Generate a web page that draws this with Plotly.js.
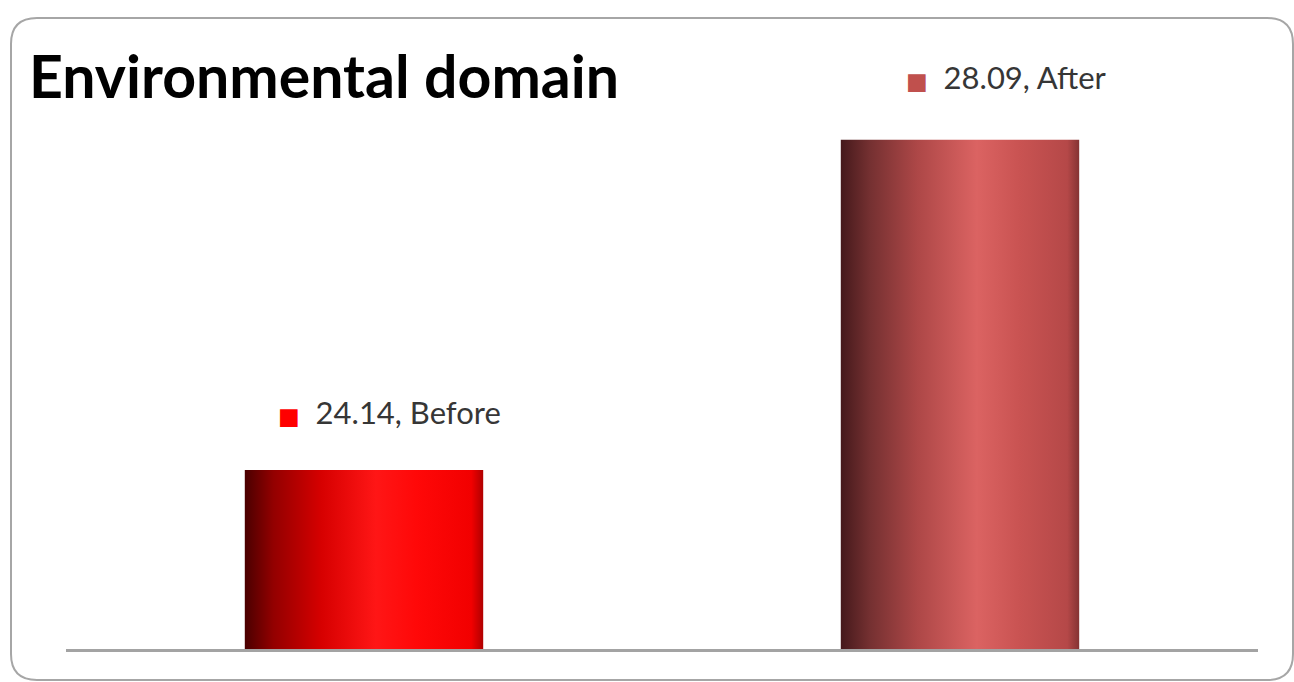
<!DOCTYPE html>
<html>
<head>
<meta charset="utf-8">
<script src="https://cdn.plot.ly/plotly-3.0.1.min.js"></script>
<style>
html,body{margin:0;padding:0;background:#fff;}
#chart{width:1294px;height:682px;}
</style>
</head>
<body>
<div id="chart"></div>
<script>
// ---- data ----
const categories = ["Before", "After"];
const values = [24.14, 28.09];
const barColors = ["#ff0000", "#c0504d"];
const chartTitle = "Environmental domain";

// ---- style helpers ----
const axisMin = 22;
const labelXShift = [-88, -56];
const labelYShift = [58, 63];
const gradients = [
  [[0, "#4a0000"], [0.12, "#930000"], [0.32, "#d60000"], [0.55, "#ff1616"], [0.72, "#ff0808"], [0.95, "#f20000"], [1, "#b00000"]],
  [[0, "#45191b"], [0.12, "#743031"], [0.32, "#ad4747"], [0.57, "#db6362"], [0.75, "#c95352"], [0.95, "#b54848"], [1, "#843333"]]
];

const W = 1294, H = 682;
const m = {l: 66, r: 36, t: 51, b: 33};
const pw = W - m.l - m.r, ph = H - m.t - m.b;
function px2x(p){ return (p - m.l) / pw; }
function py2y(p){ return (H - m.b - p) / ph; }
function borderPath(x0, y0, x1, y1, r){
  const P = (x, y) => px2x(x).toFixed(5) + "," + py2y(y).toFixed(5);
  return "M" + P(x0 + r, y0) + " L" + P(x1 - r, y0) + " Q" + P(x1, y0) + " " + P(x1, y0 + r) +
         " L" + P(x1, y1 - r) + " Q" + P(x1, y1) + " " + P(x1 - r, y1) +
         " L" + P(x0 + r, y1) + " Q" + P(x0, y1) + " " + P(x0, y1 - r) +
         " L" + P(x0, y0 + r) + " Q" + P(x0, y0) + " " + P(x0 + r, y0) + " Z";
}

const trace = {
  type: "bar",
  x: categories,
  y: values.map(v => v - axisMin),
  base: axisMin,
  width: 0.4,
  marker: {color: barColors, line: {width: 0}},
  hoverinfo: "none"
};

const annotations = categories.map((c, i) => ({
  x: c, y: values[i], xref: "x", yref: "y",
  text: '<span style="color:' + barColors[i] + ';font-family:DejaVu Sans;font-size:23px">■</span>  ' + values[i].toFixed(2) + ", " + c,
  showarrow: false, xanchor: "left", yanchor: "middle",
  xshift: labelXShift[i], yshift: labelYShift[i],
  font: {family: "Lato", size: 31, color: "#363636"}
}));

const layout = {
  width: W, height: H,
  margin: m,
  paper_bgcolor: "#ffffff", plot_bgcolor: "#ffffff",
  showlegend: false,
  title: {
    text: chartTitle, xref: "container", yref: "container",
    x: 29 / W, xanchor: "left", y: 1 - 77 / H, yanchor: "middle",
    font: {family: "Lato", size: 59, color: "#000000", weight: "bold"}
  },
  xaxis: {
    type: "category", range: [-0.5, 1.5],
    showticklabels: false, ticks: "", showgrid: false, zeroline: false,
    showline: true, linecolor: "#a3a3a3", linewidth: 3, fixedrange: true
  },
  yaxis: {
    range: [axisMin, 29.15], visible: false, showgrid: false, zeroline: false, fixedrange: true
  },
  annotations: annotations,
  shapes: [{
    type: "path", xref: "paper", yref: "paper",
    path: borderPath(11, 18, 1293, 680, 26),
    line: {color: "#a6a6a6", width: 2}, fillcolor: "rgba(0,0,0,0)", layer: "below"
  }]
};

Plotly.newPlot("chart", [trace], layout, {staticPlot: true, displayModeBar: false}).then(gd => {
  const svg = gd.querySelector("svg.main-svg");
  const NS = "http://www.w3.org/2000/svg";
  let defs = svg.querySelector("defs");
  if (!defs) { defs = document.createElementNS(NS, "defs"); svg.insertBefore(defs, svg.firstChild); }
  gradients.forEach((stops, i) => {
    const g = document.createElementNS(NS, "linearGradient");
    g.setAttribute("id", "barGrad" + i);
    g.setAttribute("x1", "0"); g.setAttribute("y1", "0");
    g.setAttribute("x2", "1"); g.setAttribute("y2", "0");
    stops.forEach(s => {
      const st = document.createElementNS(NS, "stop");
      st.setAttribute("offset", s[0]);
      st.setAttribute("stop-color", s[1]);
      g.appendChild(st);
    });
    defs.appendChild(g);
  });
  gd.querySelectorAll(".trace.bars .point path").forEach((p, i) => {
    p.style.fill = "url(#barGrad" + i + ")";
  });
});
</script>
</body>
</html>
